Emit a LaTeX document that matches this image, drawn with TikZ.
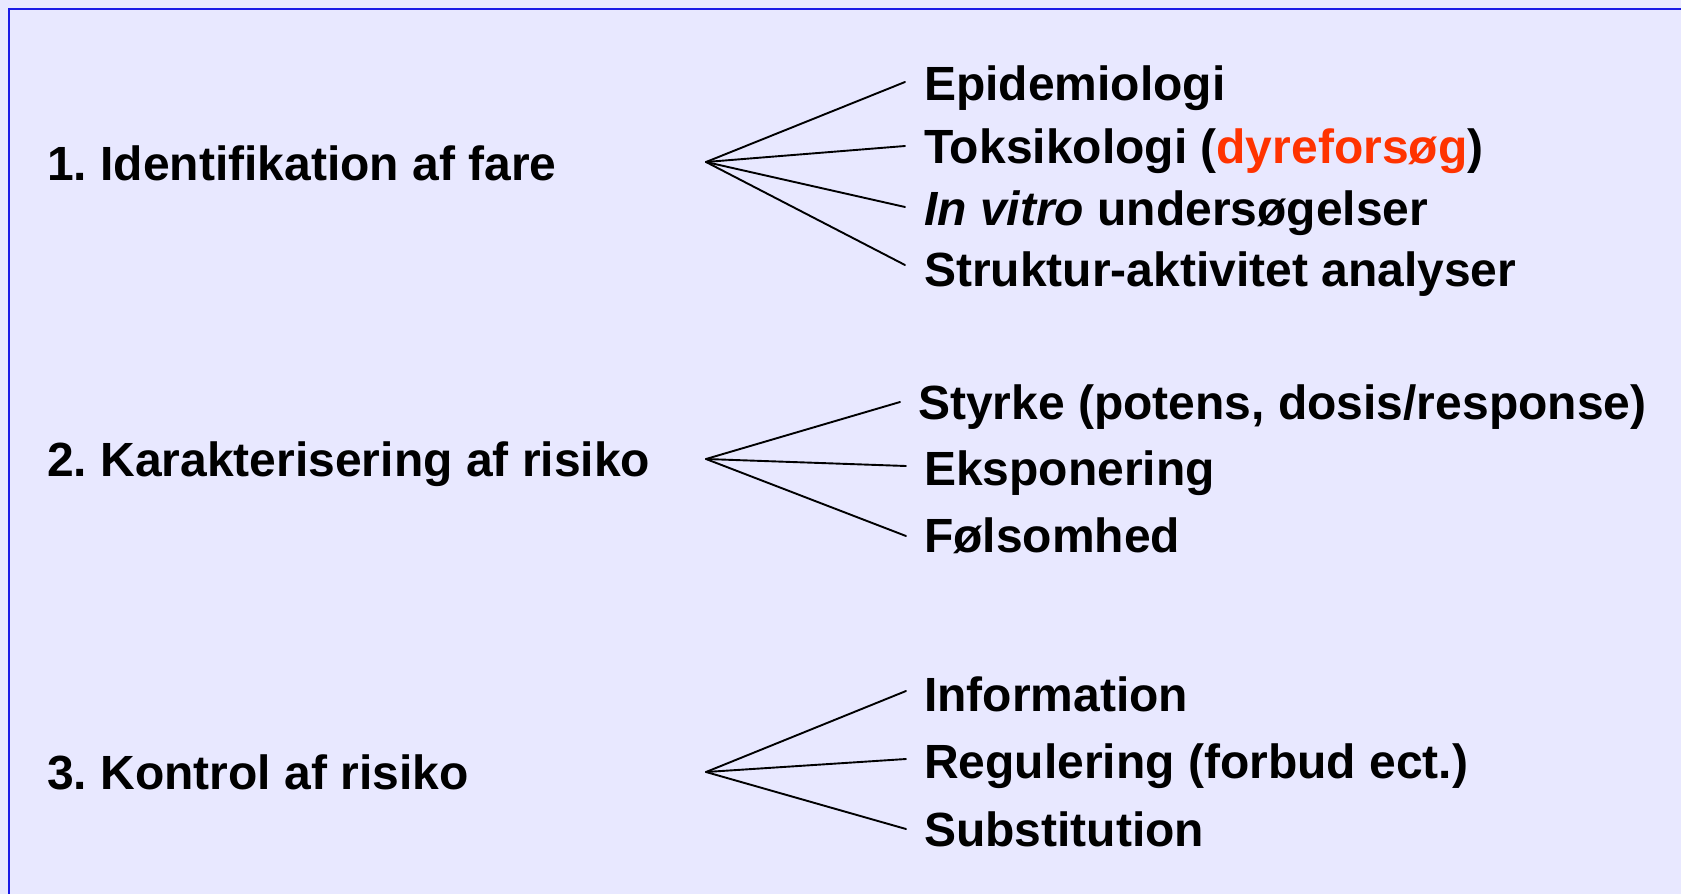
\documentclass[tikz,border=0pt]{standalone}
\usepackage{fontspec}
\setmainfont{Liberation Sans}
\definecolor{bg}{HTML}{E8E8FF}
\definecolor{frame}{HTML}{1A1AE6}
\definecolor{hl}{HTML}{FF3300}
\frenchspacing
\begin{document}
\begin{tikzpicture}[x=1pt,y=-1pt,
  lbl/.style={anchor=base west,inner sep=0pt,font=\fontsize{48}{56}\selectfont\bfseries\frenchspacing},
  fan/.style={draw=black,line width=1.9pt,line cap=round}]
\useasboundingbox (0,0) rectangle (1681,894);
\fill[bg] (0,0) rectangle (1681,894);
\draw[frame,line width=2.6pt] (1700,9) -- (9,9) -- (9,920);

% group 1
\node[lbl] (g1) at (47,180) {1. Identifikation af fare};
\coordinate (a1) at (706,162);
\node[lbl] (e1) at (924,100) {Epidemiologi};
\node[lbl] (t1) at (924,163) {Toksikologi (\textcolor{hl}{dyreforsøg})};
\node[lbl] (v1) at (924,225) {\itshape In vitro\upshape{} undersøgelser};
\node[lbl] (s1) at (924,286) {Struktur-aktivitet analyser};
\coordinate (e1p) at (905,82);
\coordinate (t1p) at (905,146);
\coordinate (v1p) at (905,207);
\coordinate (s1p) at (905,265);
\draw[fan] (a1) -- (e1p);
\draw[fan] (a1) -- (t1p);
\draw[fan] (a1) -- (v1p);
\draw[fan] (a1) -- (s1p);

% group 2
\node[lbl] (g2) at (47,476) {2. Karakterisering af risiko};
\coordinate (a2) at (706,459);
\node[lbl] (e2) at (918,419) {Styrke (potens, dosis/response)};
\node[lbl] (t2) at (924,485) {Eksponering};
\node[lbl] (v2) at (924,552) {Følsomhed};
\coordinate (e2p) at (900,402);
\coordinate (t2p) at (906,466);
\coordinate (v2p) at (906,536);
\draw[fan] (a2) -- (e2p);
\draw[fan] (a2) -- (t2p);
\draw[fan] (a2) -- (v2p);

% group 3
\node[lbl] (g3) at (47,789) {3. Kontrol af risiko};
\coordinate (a3) at (706,772);
\node[lbl] (e3) at (924,711) {Information};
\node[lbl] (t3) at (924,778) {Regulering (forbud ect.)};
\node[lbl] (v3) at (924,846) {Substitution};
\coordinate (e3p) at (906,691);
\coordinate (t3p) at (906,759);
\coordinate (v3p) at (906,829);
\draw[fan] (a3) -- (e3p);
\draw[fan] (a3) -- (t3p);
\draw[fan] (a3) -- (v3p);
\end{tikzpicture}
\end{document}
